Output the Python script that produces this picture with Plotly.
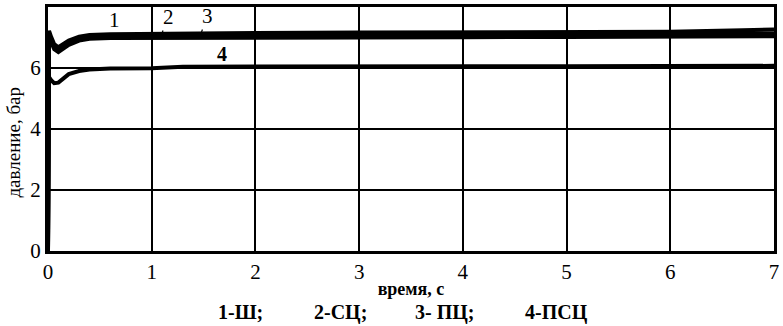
import plotly.graph_objects as go

# time, s
t = [0, 0.01, 0.03, 0.06, 0.1, 0.15, 0.2, 0.3, 0.4, 0.6, 1.0, 1.3, 2, 3, 4, 5, 6, 6.7, 7]

# pressure, bar
p1 = [0, 7.05, 6.85, 6.62, 6.52, 6.65, 6.76, 6.9, 6.96, 6.98, 6.98, 6.98, 6.99, 7.0, 7.01, 7.02, 7.03, 7.03, 7.04]
p2 = [0, 7.15, 6.95, 6.7, 6.6, 6.73, 6.84, 6.97, 7.02, 7.05, 7.06, 7.07, 7.08, 7.09, 7.1, 7.11, 7.12, 7.12, 7.13]
p3 = [0, 7.22, 7.02, 6.78, 6.68, 6.8, 6.9, 7.03, 7.08, 7.11, 7.13, 7.14, 7.15, 7.16, 7.17, 7.18, 7.19, 7.24, 7.26]
p4 = [0, 5.7, 5.6, 5.5, 5.52, 5.68, 5.8, 5.9, 5.95, 5.98, 5.99, 6.04, 6.05, 6.06, 6.06, 6.06, 6.07, 6.07, 6.07]

series = [("1-Ш", p1), ("2-СЦ", p2), ("3- ПЦ", p3), ("4-ПСЦ", p4)]

x_ticks = [0, 1, 2, 3, 4, 5, 6, 7]
y_ticks = [0, 2, 4, 6, 8]

# curve label positions (label, x on curve, y on curve, arrow?)
labels = [("1", 0.58, 7.05, True), ("2", 1.1, 7.15, True), ("3", 1.48, 7.18, True), ("4", 1.68, 6.45, False)]

legend_items = ["1-Ш;", "2-СЦ;", "3- ПЦ;", "4-ПСЦ"]
legend_x = [0.265, 0.403, 0.546, 0.7]

FONT = "Liberation Serif"

fig = go.Figure()
for name, p in series:
    fig.add_trace(go.Scatter(x=t, y=p, mode="lines", name=name,
                             line=dict(color="black", width=4), showlegend=False))

for txt, lx, ly, arrow in labels:
    if arrow:
        fig.add_annotation(x=lx, y=ly, text=txt, showarrow=True, arrowhead=0,
                           arrowwidth=1.2, arrowcolor="black", ax=6, ay=-16,
                           font=dict(family=FONT, size=21, color="black"))
    else:
        fig.add_annotation(x=lx, y=ly, text="<b>" + txt + "</b>", showarrow=False,
                           font=dict(family=FONT, size=20, color="black"))

for txt, lx in zip(legend_items, legend_x):
    fig.add_annotation(x=lx, y=-0.25, xref="paper", yref="paper", text="<b>" + txt + "</b>",
                       showarrow=False, xanchor="center", yanchor="middle",
                       font=dict(family=FONT, size=20, color="black"))

fig.add_annotation(x=-0.048, y=0.445, xref="paper", yref="paper", text="давление, бар",
                   textangle=-90, showarrow=False, xanchor="center", yanchor="middle",
                   font=dict(family=FONT, size=19, color="black"))

fig.update_layout(
    width=783, height=326,
    margin=dict(l=48, r=4, t=7, b=75),
    paper_bgcolor="white", plot_bgcolor="white",
    font=dict(family=FONT, size=21, color="black"),
    xaxis=dict(range=[0, 7], tickvals=x_ticks, showgrid=True, gridcolor="black",
               gridwidth=2, showline=True, linecolor="black", linewidth=3,
               mirror=True, zeroline=False, ticks="",
               tickfont=dict(family=FONT, size=21),
               title=dict(text="<b>время, с</b>", font=dict(family=FONT, size=18),
                          standoff=0)),
    yaxis=dict(range=[0, 8], tickvals=y_ticks, showgrid=True, gridcolor="black",
               gridwidth=2, showline=True, linecolor="black", linewidth=3,
               mirror=True, zeroline=False, ticks="",
               tickfont=dict(family=FONT, size=21)),
)

fig.write_html("out.html", config={"displayModeBar": False},
               post_script="document.body.style.margin='0';document.body.style.overflow='hidden';")
